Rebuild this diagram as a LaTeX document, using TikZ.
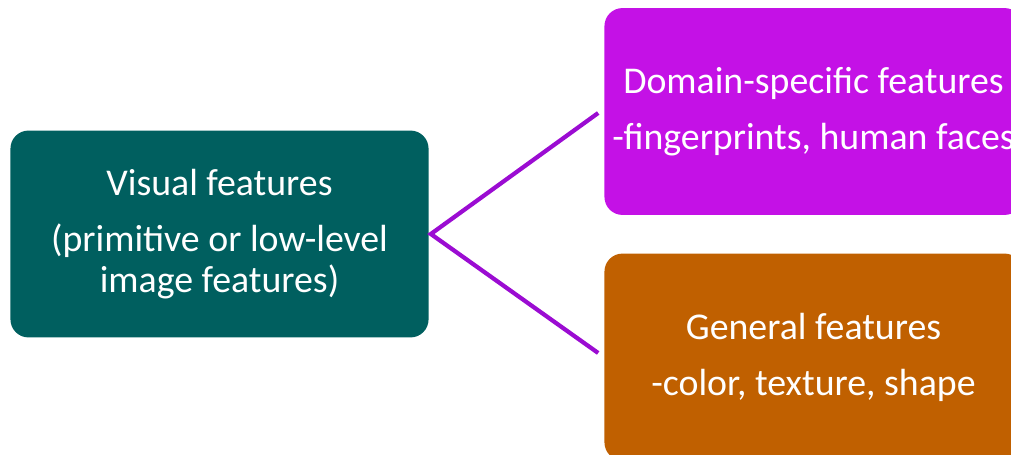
\documentclass[tikz,border=0pt]{standalone}
\usepackage{fontspec}
\setmainfont{Carlito}
\definecolor{visteal}{RGB}{0, 95, 95}
\definecolor{dommagenta}{RGB}{196, 17, 230}
\definecolor{genorange}{RGB}{192, 96, 0}
\definecolor{forkpurple}{RGB}{155, 12, 210}
\definecolor{titleblue}{RGB}{31, 78, 121}
\usetikzlibrary{positioning, calc}

\begin{document}
\begin{tikzpicture}[x=0.025cm, y=-0.025cm,
  featbox/.style={fill=#1, rounded corners=0.45cm, minimum width=10.45cm, minimum height=5.17cm,
    align=center, text=white, inner sep=0pt, font=\fontsize{26.9}{29.2}\selectfont},
  fork/.style={draw=forkpurple, line width=3pt}]
  \useasboundingbox (0,0) rectangle (1011,454);
  \clip (0,0) rectangle (1011,454);

  % Title (cut off above)
  \node[text=titleblue, font=\fontsize{44}{52}\selectfont, anchor=base, inner sep=0pt] (titleg) at (392,-13) {g};
  \node[text=titleblue, font=\fontsize{44}{52}\selectfont, anchor=base west, inner sep=0pt] (titlep) at (500,-13) {p};

  % Boxes
  \node[featbox=visteal] (visual) at (219.5, 234) {
    Visual features\\[10.6pt]
    (primitive or low-level\\
    image features)
  };

  \node[featbox=dommagenta] (domain) at (813.5, 111.5) {
    Domain-specific features\\[10.6pt]
    -fingerprints, human faces
  };

  \node[featbox=genorange] (general) at (813.5, 357) {
    General features\\[10.6pt]
    -color, texture, shape
  };

  % Connectors
  \coordinate (split) at ($(visual.east)+(2,0)$);
  \draw[fork] ($(domain.west)+(-6,1.5)$) -- (split) -- ($(general.west)+(-6,-4)$);
\end{tikzpicture}
\end{document}
